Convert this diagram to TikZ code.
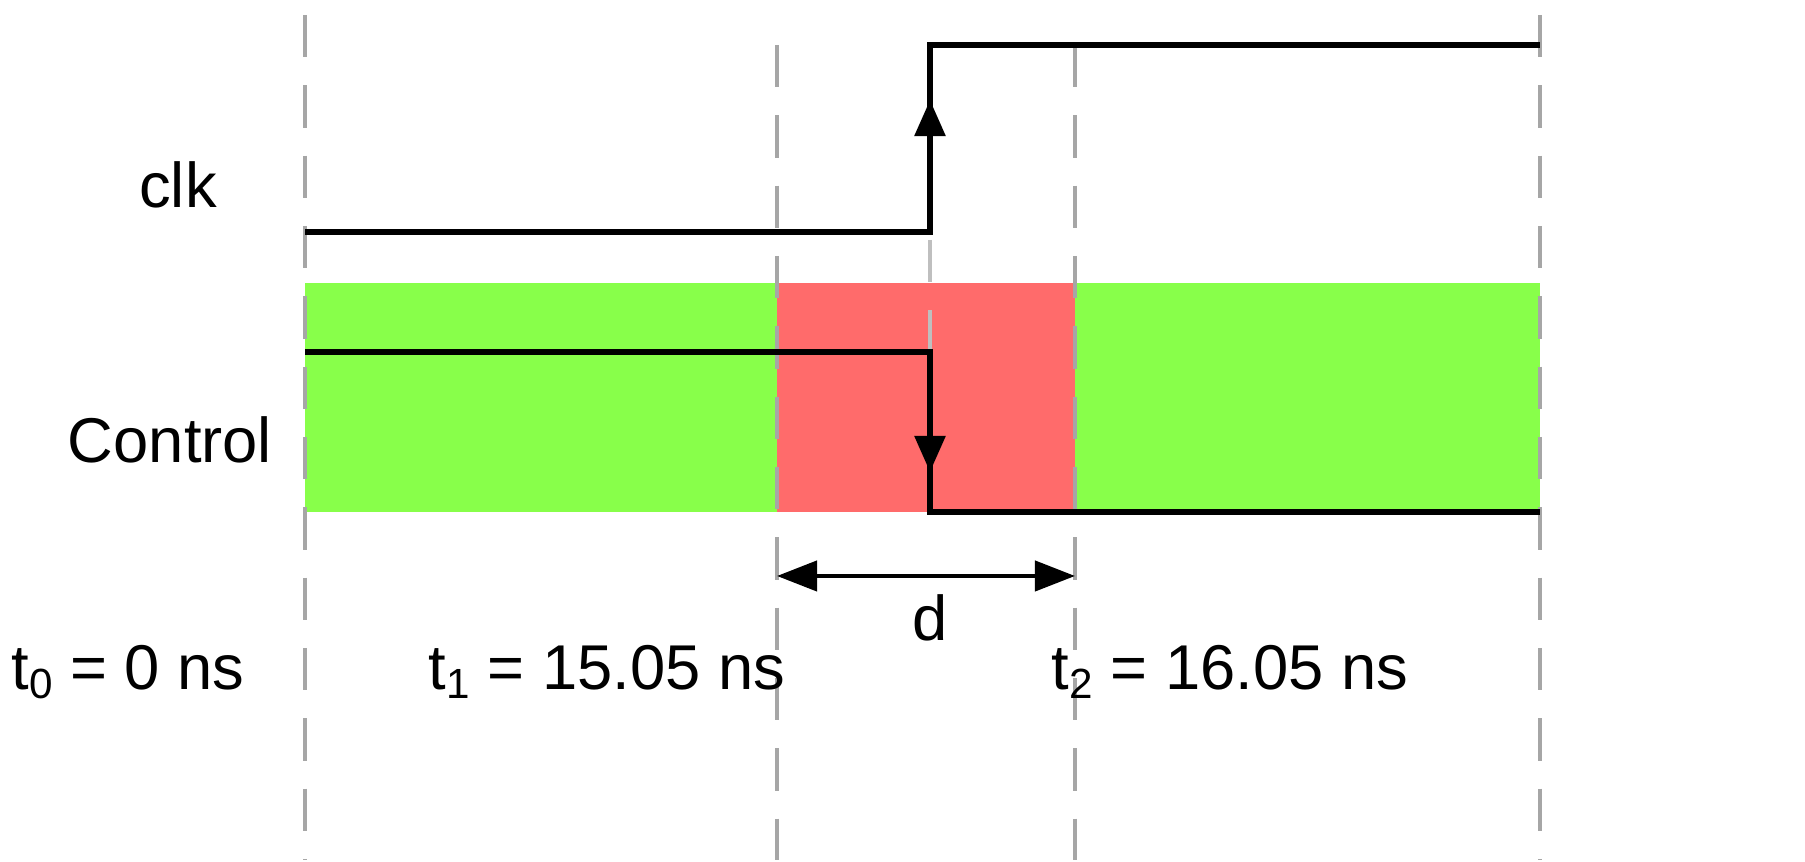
\documentclass[tikz,border=0pt]{standalone}
\usepackage{fontspec}
\setmainfont{Liberation Sans}
\usetikzlibrary{arrows.meta}
\definecolor{okgreen}{HTML}{88FF4A}
\definecolor{badred}{HTML}{FF6B6B}
\newcommand{\sbs}[1]{\raisebox{-0.25ex}{\fontsize{12}{14}\selectfont #1}}
\tikzset{
 gridline/.style={gray!70,line width=1.2pt,dash pattern=on 12pt off 8pt},
 sig/.style={line width=1.6pt,black},
 tri/.style={-{Triangle[length=0.36cm,width=0.3cm]}},
 lbl/.style={font=\fontsize{18}{20}\selectfont,inner sep=0pt}
}
\begin{document}
\begin{tikzpicture}[x=0.01cm,y=-0.01cm]
\fill[okgreen] (305,283) rectangle (777,512);
\fill[badred] (777,283) rectangle (1075,512);
\fill[okgreen] (1075,283) rectangle (1540,512);
\draw[gridline] (305,15) -- (305,860);
\draw[gridline] (777,45) -- (777,860);
\draw[gridline] (1075,45) -- (1075,860);
\draw[gridline] (1540,15) -- (1540,860);
\draw[gridline,gray!50] (930,240) -- (930,512);
\coordinate (c0) at (305,232); \coordinate (c1) at (930,232);
\coordinate (c2) at (930,45); \coordinate (c3) at (1540,45);
\coordinate (cm) at (930,100);
\draw[sig] (c0) -- (c1) -- (c2) -- (c3);
\draw[sig,tri] (c1) -- (cm);
\coordinate (k0) at (305,352); \coordinate (k1) at (930,352);
\coordinate (k2) at (930,512); \coordinate (k3) at (1540,512);
\coordinate (km) at (930,472);
\draw[sig] (k0) -- (k1) -- (k2) -- (k3);
\draw[sig,tri] (k1) -- (km);
\coordinate (d0) at (777,576); \coordinate (d1) at (1075,576);
\draw[line width=1.2pt,{Triangle[length=0.4cm,width=0.3cm]}-{Triangle[length=0.4cm,width=0.3cm]}] (d0) -- (d1);
\node[lbl] (d) at (930,618) {d};
\node[lbl] (clk) at (178,185) {clk};
\node[lbl] (ctl) at (170,440) {Control};
\node[lbl] (t0) at (128,672) {t\sbs{0} = 0 ns};
\node[lbl] (t1) at (607,672) {t\sbs{1} = 15.05 ns};
\node[lbl] (t2) at (1230,672) {t\sbs{2} = 16.05 ns};
\pgfresetboundingbox
\useasboundingbox (0,0) rectangle (1805,862);
\end{tikzpicture}
\end{document}
